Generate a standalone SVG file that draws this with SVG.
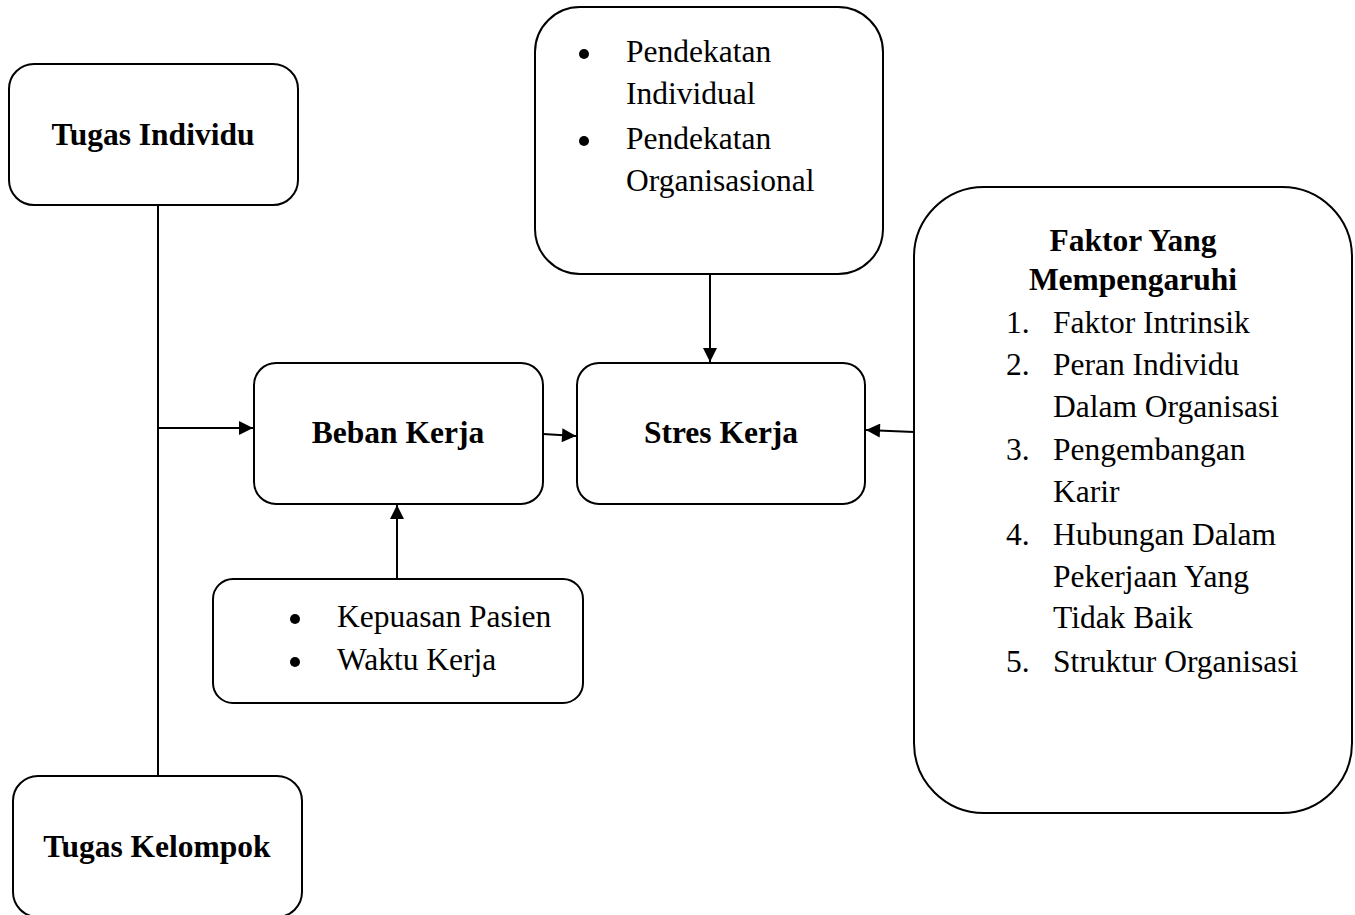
<svg xmlns="http://www.w3.org/2000/svg" width="1355" height="915" viewBox="0 0 1355 915">
<style>
.box{fill:#fff;stroke:#000;stroke-width:2}
.t{font-family:"Liberation Serif","Times New Roman",serif;font-size:31.5px;fill:#000}
.b{font-weight:bold}
.c{text-anchor:middle}
.ln{stroke:#000;stroke-width:2;fill:none}
</style>
<defs>
<marker id="ah" viewBox="0 0 10 10" refX="10" refY="5" markerWidth="16" markerHeight="14" markerUnits="userSpaceOnUse" orient="auto">
<path d="M0,0 L10,5 L0,10 z" fill="#000"/>
</marker>
</defs>
<rect width="1355" height="915" fill="#fff"/>
<g id="connectors">
<line class="ln" x1="158" y1="205" x2="158" y2="776"/>
<line class="ln" x1="158" y1="428" x2="253" y2="428" marker-end="url(#ah)"/>
<line class="ln" x1="543" y1="434" x2="576" y2="436" marker-end="url(#ah)"/>
<line class="ln" x1="710" y1="274" x2="710" y2="362" marker-end="url(#ah)"/>
<line class="ln" x1="914" y1="432" x2="866" y2="430" marker-end="url(#ah)"/>
<line class="ln" x1="397" y1="579" x2="397" y2="505" marker-end="url(#ah)"/>
</g>
<g id="tugas-individu">
<rect class="box" x="9" y="64" width="289" height="141" rx="25"/>
<text class="t b c" x="153" y="145">Tugas Individu</text>
</g>
<g id="tugas-kelompok">
<rect class="box" x="13" y="776" width="289" height="141" rx="25"/>
<text class="t b c" x="157" y="857">Tugas Kelompok</text>
</g>
<g id="beban-kerja">
<rect class="box" x="254" y="363" width="289" height="141" rx="22"/>
<text class="t b c" x="398" y="443">Beban Kerja</text>
</g>
<g id="stres-kerja">
<rect class="box" x="577" y="363" width="288" height="141" rx="22"/>
<text class="t b c" x="721" y="443">Stres Kerja</text>
</g>
<g id="pendekatan">
<rect class="box" x="535" y="7" width="348" height="267" rx="45"/>
<circle cx="584" cy="54" r="5"/>
<circle cx="584" cy="141" r="5"/>
<text class="t" x="626" y="62">Pendekatan</text>
<text class="t" x="626" y="104">Individual</text>
<text class="t" x="626" y="149">Pendekatan</text>
<text class="t" x="626" y="191">Organisasional</text>
</g>
<g id="kepuasan">
<rect class="box" x="213" y="579" width="370" height="124" rx="20"/>
<circle cx="295" cy="619" r="5"/>
<circle cx="295" cy="662" r="5"/>
<text class="t" x="337" y="627">Kepuasan Pasien</text>
<text class="t" x="337" y="670">Waktu Kerja</text>
</g>
<g id="faktor">
<rect class="box" x="914" y="187" width="438" height="626" rx="70"/>
<text class="t b c" x="1133" y="251">Faktor Yang</text>
<text class="t b c" x="1133" y="290">Mempengaruhi</text>
<text class="t" x="1006" y="333">1.</text>
<text class="t" x="1053" y="333">Faktor Intrinsik</text>
<text class="t" x="1006" y="375">2.</text>
<text class="t" x="1053" y="375">Peran Individu</text>
<text class="t" x="1053" y="417">Dalam Organisasi</text>
<text class="t" x="1006" y="460">3.</text>
<text class="t" x="1053" y="460">Pengembangan</text>
<text class="t" x="1053" y="502">Karir</text>
<text class="t" x="1006" y="545">4.</text>
<text class="t" x="1053" y="545">Hubungan Dalam</text>
<text class="t" x="1053" y="587">Pekerjaan Yang</text>
<text class="t" x="1053" y="628">Tidak Baik</text>
<text class="t" x="1006" y="672">5.</text>
<text class="t" x="1053" y="672">Struktur Organisasi</text>
</g>
</svg>
